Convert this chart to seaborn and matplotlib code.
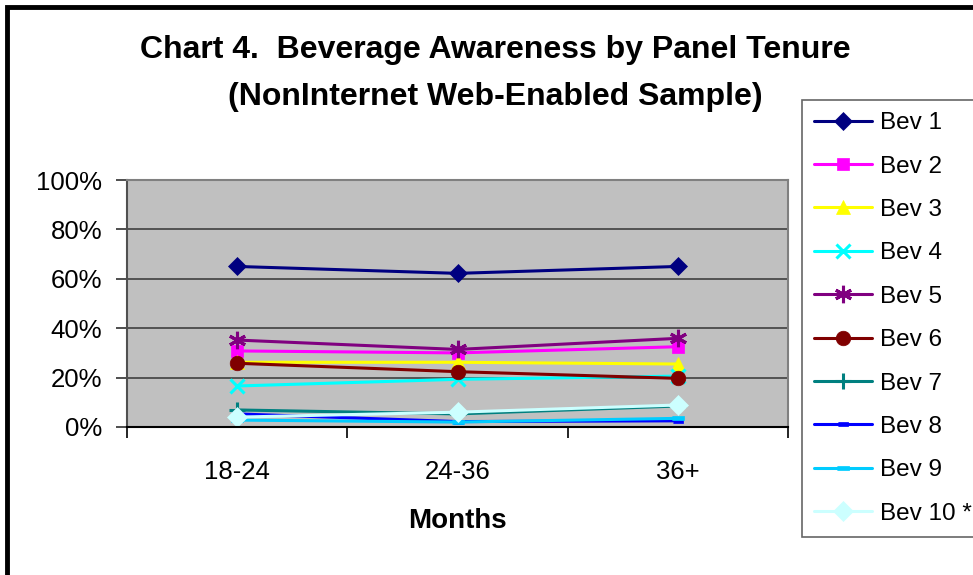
import matplotlib
matplotlib.use("Agg")
import matplotlib.pyplot as plt
import seaborn as sns
import pandas as pd
from matplotlib.patches import Rectangle

# Awareness (%) of each beverage by panel tenure group
months = ["18-24", "24-36", "36+"]
bev1 = [65.0, 62.2, 65.0]
bev2 = [30.8, 30.0, 32.5]
bev3 = [26.2, 26.2, 25.5]
bev4 = [16.6, 19.3, 20.6]
bev5 = [35.2, 31.4, 35.9]
bev6 = [25.8, 22.4, 19.7]
bev7 = [6.9, 5.3, 8.5]
bev8 = [5.3, 2.2, 2.5]
bev9 = [2.8, 2.0, 3.5]
bev10 = [4.0, 6.0, 8.9]

series_names = ["Bev 1", "Bev 2", "Bev 3", "Bev 4", "Bev 5",
                "Bev 6", "Bev 7", "Bev 8", "Bev 9", "Bev 10 *"]
series_values = [bev1, bev2, bev3, bev4, bev5, bev6, bev7, bev8, bev9, bev10]

colors = ["#000080", "#FF00FF", "#FFFF00", "#00FFFF", "#800080",
          "#800000", "#008080", "#0000FF", "#00CCFF", "#CCFFFF"]
dash_marker = [(-1, -0.35), (1, -0.35), (1, 0.35), (-1, 0.35)]
markers = ["D", "s", "^", "x", (6, 2, 0), "o", "+", dash_marker, dash_marker, "D"]
msizes = [9.5, 9, 10.5, 10.5, 12.5, 10.5, 11.5, 7, 9, 10.5]

rows = []
for name, vals in zip(series_names, series_values):
    for m, v in zip(months, vals):
        rows.append({"Months": m, "Awareness": v / 100.0, "Series": name})
df = pd.DataFrame(rows)

sns.set_style("white")
plt.rcParams["font.family"] = ["Liberation Sans", "DejaVu Sans"]
plt.rcParams["text.color"] = "black"
plt.rcParams["axes.labelcolor"] = "black"
plt.rcParams["xtick.color"] = "black"
plt.rcParams["ytick.color"] = "black"

fig = plt.figure(figsize=(9.73, 5.75), dpi=100)
W, H = 973, 575
ax = fig.add_axes([127 / W, 1 - 427 / H, (788 - 127) / W, (427 - 180) / H])
ax.set_facecolor("#C0C0C0")

for name, col, mk, ms in zip(series_names, colors, markers, msizes):
    sub = df[df["Series"] == name]
    line_art = mk in ("x", "+", (6, 2, 0))
    sns.lineplot(data=sub, x="Months", y="Awareness", ax=ax, color=col,
                 marker=mk, markersize=ms, linewidth=2.2, label=name,
                 markeredgewidth=2.2 if line_art else 0.5,
                 markeredgecolor=col, markerfacecolor=col, sort=False)

ax.set_xlim(-0.5, 2.5)
ax.set_ylim(0, 1.0)
ax.set_yticks([0, 0.2, 0.4, 0.6, 0.8, 1.0])
ax.set_yticklabels(["0%", "20%", "40%", "60%", "80%", "100%"])
ax.yaxis.grid(True, color="#404040", linewidth=1.2)
ax.set_axisbelow(True)

# Category labels centred, tick marks on category boundaries
ax.set_xticks([0, 1, 2])
ax.set_xticklabels(months)
ax.set_xticks([-0.5, 0.5, 1.5, 2.5], minor=True)
ax.tick_params(axis="x", which="major", length=0, pad=24, labelsize=18.5)
ax.tick_params(axis="x", which="minor", length=8, width=1.2, color="black",
               direction="out", bottom=True)
ax.tick_params(axis="y", length=8, width=1.2, color="#303030", direction="out",
               left=True, pad=10, labelsize=18.5)

for side in ("top", "right"):
    ax.spines[side].set_color("#808080")
    ax.spines[side].set_linewidth(1.5)
ax.spines["left"].set_color("#505050")
ax.spines["left"].set_linewidth(1.5)
ax.spines["bottom"].set_color("black")
ax.spines["bottom"].set_linewidth(1.5)

ax.set_xlabel("Months", fontsize=20, fontweight="bold", labelpad=17)
ax.set_ylabel("")

fig.text(495 / W, 1 - 50 / H, "Chart 4.  Beverage Awareness by Panel Tenure",
         ha="center", va="center", fontsize=23, fontweight="bold")
fig.text(495 / W, 1 - 97 / H, "(NonInternet Web-Enabled Sample)",
         ha="center", va="center", fontsize=23, fontweight="bold")

leg = ax.legend(loc="upper left", bbox_to_anchor=(802 / W, 1 - 100 / H),
                bbox_transform=fig.transFigure, borderaxespad=0,
                fontsize=17.5, frameon=True, fancybox=False, edgecolor="#404040",
                handlelength=2.4, handletextpad=0.3, labelspacing=0.88,
                borderpad=0.5, markerscale=1.0)
leg.get_frame().set_linewidth(1.2)

# Outer chart border
fig.patches.append(Rectangle((7 / W, -0.1), 1.2, 1 - 7 / H + 0.1,
                             transform=fig.transFigure, fill=False,
                             edgecolor="black", linewidth=3.5, zorder=10))

fig.savefig("out.png", dpi=100, facecolor="white")
